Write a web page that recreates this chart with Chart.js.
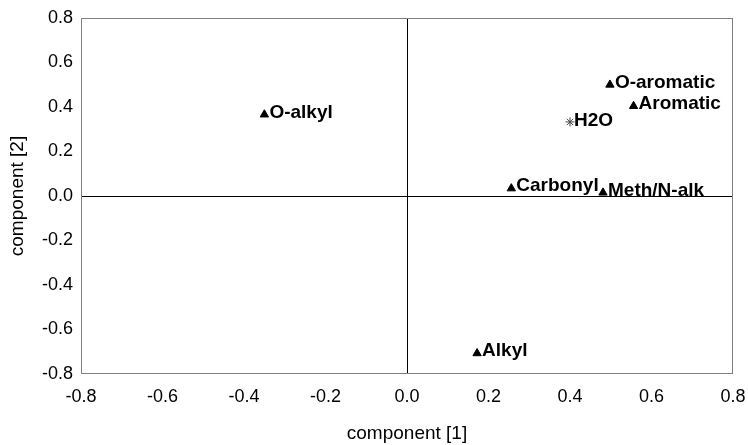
<!DOCTYPE html>
<html>
<head>
<meta charset="utf-8">
<script src="https://cdn.jsdelivr.net/npm/chart.js@4.4.1/dist/chart.umd.min.js"></script>
<style>
  html, body { margin: 0; padding: 0; background: #fff; }
  #wrap { width: 748px; height: 445px; }
</style>
</head>
<body>
<div id="wrap"><canvas id="chart" width="748" height="445"></canvas></div>
<script>
// loadings (component 1 vs component 2)
const varNames = ['O-alkyl', 'O-aromatic', 'Aromatic', 'Carbonyl', 'Meth/N-alk', 'Alkyl'];
const comp1 = [-0.350, 0.498, 0.556, 0.256, 0.481, 0.172];
const comp2 = [0.366, 0.500, 0.404, 0.034, 0.015, -0.707];
const waterName = ['H2O'];
const waterC1 = [0.400];
const waterC2 = [0.333];
const tickValues = [-0.8, -0.6, -0.4, -0.2, 0.0, 0.2, 0.4, 0.6, 0.8];

const FONT = '"Liberation Sans", Arial, sans-serif';

const toPts = (xs, ys, names) => xs.map((x, i) => ({ x, y: ys[i], name: names[i] }));

// text next to each marker, baseline on the marker's bottom
const pointLabels = {
  id: 'pointLabels',
  afterDatasetsDraw(chart) {
    const ctx = chart.ctx, xs = chart.scales.x, ys = chart.scales.y;
    ctx.save();
    ctx.font = 'bold 19px ' + FONT;
    ctx.fillStyle = '#000';
    ctx.textBaseline = 'alphabetic';
    chart.data.datasets.forEach((ds) => {
      const dx = ds.labelDx, dy = ds.labelDy;
      ds.data.forEach((p) => {
        ctx.fillText(p.name, xs.getPixelForValue(p.x) + dx, ys.getPixelForValue(p.y) + dy);
      });
    });
    ctx.restore();
  },
};

const frame = {
  id: 'frame',
  afterDraw(chart) {
    const { ctx, chartArea: a } = chart;
    ctx.save();
    ctx.strokeStyle = '#808080';
    ctx.lineWidth = 1;
    ctx.strokeRect(a.left + 0.5, a.top + 0.5, a.right - a.left - 1, a.bottom - a.top - 1);
    ctx.restore();
  },
};

const zeroGrid = {
  color: (c) => (c.tick && c.tick.value === 0 ? '#000' : 'rgba(0,0,0,0)'),
  lineWidth: 1,
  drawTicks: false,
};

new Chart(document.getElementById('chart'), {
  type: 'scatter',
  data: {
    datasets: [
      {
        data: toPts(comp1, comp2, varNames),
        pointStyle: 'triangle',
        radius: 4.8,
        backgroundColor: '#000',
        borderColor: '#000',
        borderWidth: 1,
        labelDx: 5,
        labelDy: 3,
      },
      {
        data: toPts(waterC1, waterC2, waterName),
        pointStyle: 'star',
        radius: 4.5,
        borderColor: '#444',
        borderWidth: 1,
        labelDx: 4,
        labelDy: 4,
      },
    ],
  },
  options: {
    responsive: false,
    animation: false,
    layout: { padding: { left: 0, right: 15, top: 18, bottom: 0 } },
    plugins: { legend: { display: false }, tooltip: { enabled: false } },
    scales: {
      x: {
        type: 'linear', min: -0.8, max: 0.8,
        afterBuildTicks: (s) => { s.ticks = tickValues.map((v) => ({ value: v })); },
        afterFit: (s) => { s.height = 71; s.paddingLeft = 0; s.paddingRight = 0; },
        grid: zeroGrid,
        border: { display: false },
        ticks: { color: '#000', font: { family: FONT, size: 18 }, padding: 12, callback: (v) => v.toFixed(1), maxRotation: 0 },
        title: { display: true, text: 'component [1]', color: '#000', font: { family: FONT, size: 19 }, padding: { top: 0, bottom: 0 } },
      },
      y: {
        type: 'linear', min: -0.8, max: 0.8,
        afterBuildTicks: (s) => { s.ticks = tickValues.map((v) => ({ value: v })); },
        afterFit: (s) => { s.width = 81; s.paddingTop = 0; s.paddingBottom = 0; },
        grid: zeroGrid,
        border: { display: false },
        ticks: { color: '#000', font: { family: FONT, size: 18 }, padding: 8, callback: (v) => v.toFixed(1) },
        title: { display: true, text: 'component [2]', color: '#000', font: { family: FONT, size: 19 }, padding: { top: 6, bottom: 0 } },
      },
    },
  },
  plugins: [pointLabels, frame],
});
</script>
</body>
</html>
